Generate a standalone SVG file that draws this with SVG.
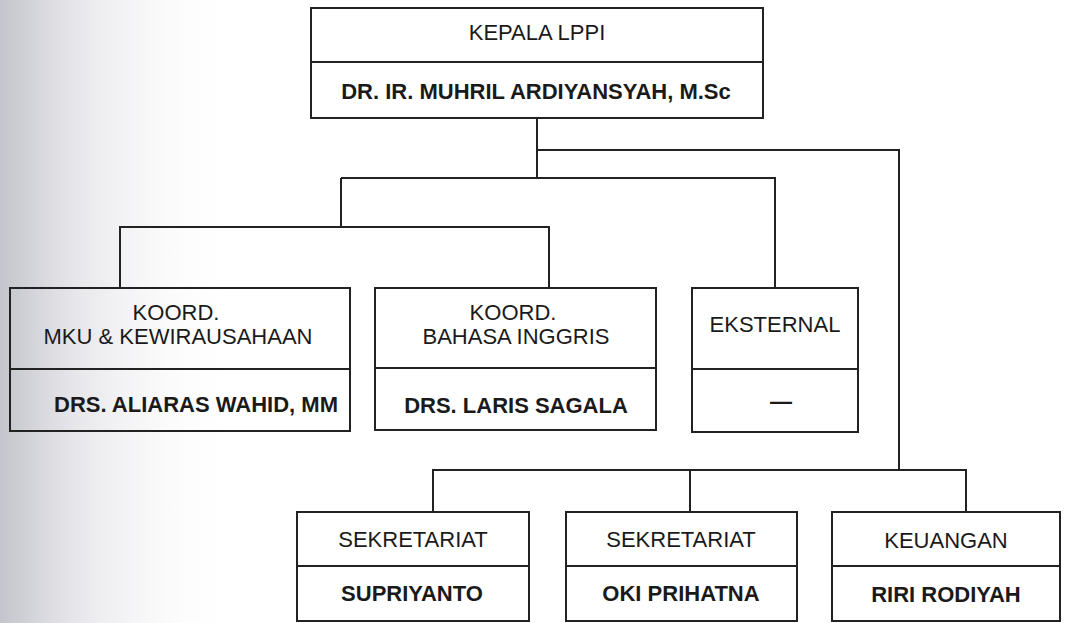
<svg xmlns="http://www.w3.org/2000/svg" width="1066" height="623" viewBox="0 0 1066 623">
<defs>
<style>
.box{fill:none;stroke:#222;stroke-width:2}
.div{stroke:#222;stroke-width:2}
.con{fill:none;stroke:#222;stroke-width:2}
text{font-family:"Liberation Sans",Arial,sans-serif;font-size:22px;fill:#1a1a1a;text-anchor:middle}
.b{font-weight:bold}
</style>
<linearGradient id="scan" x1="0" y1="0" x2="1" y2="0">
<stop offset="0" stop-color="#c4c5cc"/>
<stop offset="0.3" stop-color="#e6e6ea"/>
<stop offset="1" stop-color="#ffffff" stop-opacity="0"/>
</linearGradient>
</defs>
<rect x="0" y="0" width="1066" height="623" fill="#ffffff"/>
<rect x="0" y="0" width="240" height="623" fill="url(#scan)"/>

<g id="connectors">
<polyline class="con" points="537,118 537,178"/>
<polyline class="con" points="537,150 899,150 899,470"/>
<polyline class="con" points="341,178 775,178 775,288"/>
<polyline class="con" points="341,178 341,227"/>
<polyline class="con" points="120,288 120,227 549,227 549,288"/>
<polyline class="con" points="433,512 433,470 966,470 966,512"/>
<polyline class="con" points="690,470 690,512"/>
</g>

<g id="kepala">
<rect class="box" x="311" y="8" width="452" height="110"/>
<line class="div" x1="311" y1="62" x2="763" y2="62"/>
<text x="537" y="40">KEPALA LPPI</text>
<text class="b" x="536" y="99">DR. IR. MUHRIL ARDIYANSYAH, M.Sc</text>
</g>

<g id="mku">
<rect class="box" x="10" y="288" width="340" height="143"/>
<line class="div" x1="10" y1="369" x2="350" y2="369"/>
<text x="176" y="320">KOORD.</text>
<text x="178" y="344">MKU &amp; KEWIRAUSAHAAN</text>
<text class="b" x="196" y="412">DRS. ALIARAS WAHID, MM</text>
</g>

<g id="bahasa">
<rect class="box" x="375" y="288" width="281" height="142"/>
<line class="div" x1="375" y1="368" x2="656" y2="368"/>
<text x="513" y="320">KOORD.</text>
<text x="516" y="344">BAHASA INGGRIS</text>
<text class="b" x="516" y="413">DRS. LARIS SAGALA</text>
</g>

<g id="eksternal">
<rect class="box" x="692" y="288" width="166" height="144"/>
<line class="div" x1="692" y1="369" x2="858" y2="369"/>
<text x="775" y="332">EKSTERNAL</text>
<text class="b" x="781" y="409">—</text>
</g>

<g id="sekretariat1">
<rect class="box" x="297" y="512" width="232" height="109"/>
<line class="div" x1="297" y1="566" x2="529" y2="566"/>
<text x="413" y="547">SEKRETARIAT</text>
<text class="b" x="412" y="601">SUPRIYANTO</text>
</g>

<g id="sekretariat2">
<rect class="box" x="566" y="512" width="231" height="109"/>
<line class="div" x1="566" y1="566" x2="797" y2="566"/>
<text x="681" y="547">SEKRETARIAT</text>
<text class="b" x="681" y="601">OKI PRIHATNA</text>
</g>

<g id="keuangan">
<rect class="box" x="832" y="512" width="228" height="109"/>
<line class="div" x1="832" y1="566" x2="1060" y2="566"/>
<text x="946" y="548">KEUANGAN</text>
<text class="b" x="946" y="602">RIRI RODIYAH</text>
</g>
</svg>
